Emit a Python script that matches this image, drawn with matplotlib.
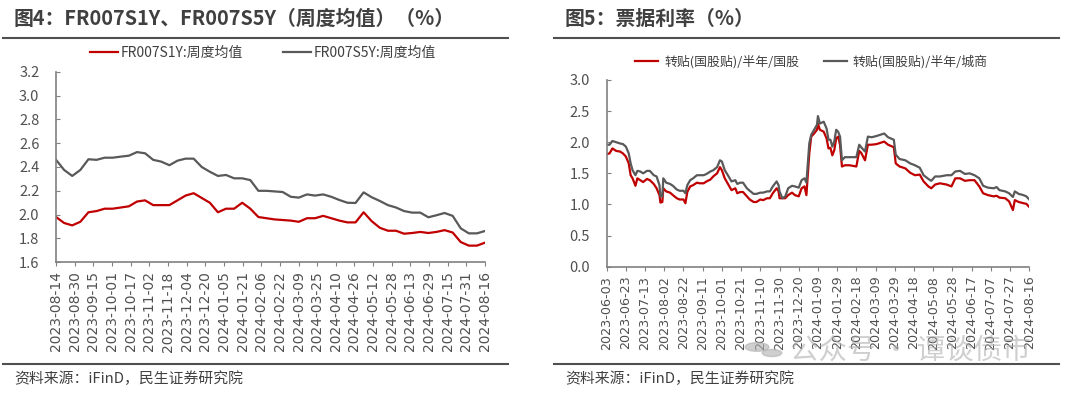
import pandas as pd
import matplotlib.pyplot as plt
import matplotlib.dates as mdates
import numpy as np
from matplotlib.lines import Line2D

plt.rcParams['font.family'] = ['Noto Sans CJK SC', 'DejaVu Sans']

RED = '#C00000'
GRAY = '#595959'
AXC = '#808080'
TXT = '#404040'

# ---- 图4: weekly FR007 swap rates ----
fr_start = '2023-08-14'
fr_end = '2024-08-16'
fr007s1y = [1.98, 1.93, 1.91, 1.94, 2.02, 2.03, 2.05, 2.05, 2.06, 2.07, 2.11, 2.12,
            2.08, 2.08, 2.08, 2.12, 2.16, 2.18, 2.14, 2.10, 2.02, 2.05, 2.05, 2.10,
            2.05, 1.98, 1.97, 1.96, 1.955, 1.95, 1.94, 1.97, 1.97, 1.99, 1.97, 1.95,
            1.935, 1.935, 2.02, 1.945, 1.89, 1.865, 1.865, 1.84, 1.846, 1.855, 1.846,
            1.855, 1.87, 1.85, 1.77, 1.74, 1.74, 1.765]
fr007s5y = [2.46, 2.375, 2.325, 2.375, 2.465, 2.46, 2.478, 2.478, 2.487, 2.495, 2.525, 2.515,
            2.46, 2.445, 2.415, 2.453, 2.47, 2.47, 2.40, 2.36, 2.325, 2.333, 2.305, 2.305,
            2.29, 2.20, 2.20, 2.195, 2.19, 2.15, 2.143, 2.17, 2.16, 2.17, 2.15, 2.123,
            2.10, 2.098, 2.187, 2.146, 2.115, 2.08, 2.06, 2.03, 2.017, 2.017, 1.978,
            1.995, 2.014, 1.99, 1.885, 1.843, 1.843, 1.863]
fr_dates = pd.date_range(fr_start, fr_end, periods=len(fr007s1y))
fr_ticks = pd.date_range(fr_start, fr_end, freq='16D')

# ---- 图5: bill rates (daily, sampled) ----
bill_dates = ['2023-06-03', '2023-06-06', '2023-06-09', '2023-06-13', '2023-06-17', '2023-06-20',
              '2023-06-23', '2023-06-26', '2023-06-28', '2023-06-30', '2023-07-03', '2023-07-05',
              '2023-07-08', '2023-07-11', '2023-07-15', '2023-07-18', '2023-07-22', '2023-07-25',
              '2023-07-28', '2023-07-29', '2023-07-31', '2023-08-01', '2023-08-04', '2023-08-08',
              '2023-08-11', '2023-08-15', '2023-08-18', '2023-08-22', '2023-08-24', '2023-08-26',
              '2023-08-29', '2023-09-01', '2023-09-05', '2023-09-08', '2023-09-12', '2023-09-15',
              '2023-09-19', '2023-09-22', '2023-09-26', '2023-09-29', '2023-10-01', '2023-10-04',
              '2023-10-08', '2023-10-11', '2023-10-15', '2023-10-17', '2023-10-20', '2023-10-23',
              '2023-10-27', '2023-10-30', '2023-11-03', '2023-11-06', '2023-11-10', '2023-11-13',
              '2023-11-17', '2023-11-20', '2023-11-23', '2023-11-27', '2023-11-29', '2023-11-30',
              '2023-12-03', '2023-12-06', '2023-12-09', '2023-12-13', '2023-12-16', '2023-12-20',
              '2023-12-23', '2023-12-26', '2023-12-28', '2023-12-31', '2024-01-02', '2024-01-05',
              '2024-01-08', '2024-01-09', '2024-01-11', '2024-01-15', '2024-01-18', '2024-01-20',
              '2024-01-22', '2024-01-24', '2024-01-26', '2024-01-28', '2024-01-30', '2024-02-01',
              '2024-02-03', '2024-02-06', '2024-02-11', '2024-02-18', '2024-02-21', '2024-02-23',
              '2024-02-27', '2024-03-01', '2024-03-05', '2024-03-10', '2024-03-14', '2024-03-18',
              '2024-03-22', '2024-03-28', '2024-03-30', '2024-04-03', '2024-04-09', '2024-04-14',
              '2024-04-19', '2024-04-24', '2024-04-28', '2024-05-03', '2024-05-06', '2024-05-10',
              '2024-05-15', '2024-05-22', '2024-05-27', '2024-05-31', '2024-06-05', '2024-06-10',
              '2024-06-15', '2024-06-20', '2024-06-25', '2024-06-29', '2024-07-04', '2024-07-10',
              '2024-07-13', '2024-07-16', '2024-07-22', '2024-07-26', '2024-07-30', '2024-08-01',
              '2024-08-05', '2024-08-10', '2024-08-13', '2024-08-16']
bill_guogu = [1.81, 1.82, 1.90, 1.86, 1.85, 1.82, 1.77, 1.66, 1.47, 1.42, 1.30, 1.42,
              1.39, 1.36, 1.41, 1.39, 1.33, 1.26, 1.15, 1.03, 1.04, 1.26, 1.21, 1.19,
              1.15, 1.10, 1.08, 1.08, 1.02, 1.20, 1.29, 1.31, 1.35, 1.34, 1.34, 1.37,
              1.40, 1.45, 1.50, 1.60, 1.55, 1.42, 1.31, 1.23, 1.26, 1.18, 1.20, 1.20,
              1.13, 1.08, 1.04, 1.04, 1.08, 1.07, 1.10, 1.10, 1.18, 1.26, 1.21, 1.10,
              1.10, 1.10, 1.15, 1.19, 1.15, 1.13, 1.26, 1.29, 1.15, 1.82, 2.09, 2.14,
              2.20, 2.30, 2.20, 2.17, 2.06, 1.90, 1.91, 1.79, 1.87, 2.06, 2.09, 1.96,
              1.61, 1.63, 1.63, 1.61, 1.86, 1.83, 1.71, 1.96, 1.96, 1.97, 1.99, 2.01,
              1.96, 1.92, 1.66, 1.61, 1.58, 1.51, 1.47, 1.48, 1.37, 1.29, 1.26, 1.32,
              1.34, 1.32, 1.29, 1.42, 1.42, 1.38, 1.39, 1.39, 1.29, 1.18, 1.15, 1.13,
              1.14, 1.11, 1.10, 1.05, 0.91, 1.07, 1.04, 1.02, 1.01, 0.96]
bill_chengshang = [1.96, 1.96, 2.02, 2.00, 1.98, 1.97, 1.93, 1.82, 1.66, 1.55, 1.47, 1.54,
                   1.53, 1.50, 1.54, 1.54, 1.47, 1.45, 1.31, 1.13, 1.13, 1.42, 1.35, 1.33,
                   1.30, 1.24, 1.22, 1.22, 1.18, 1.31, 1.39, 1.42, 1.47, 1.47, 1.47, 1.49,
                   1.53, 1.55, 1.60, 1.71, 1.69, 1.55, 1.45, 1.37, 1.39, 1.33, 1.35, 1.35,
                   1.26, 1.22, 1.17, 1.17, 1.19, 1.19, 1.21, 1.21, 1.29, 1.37, 1.31, 1.21,
                   1.10, 1.13, 1.26, 1.30, 1.29, 1.27, 1.39, 1.42, 1.35, 1.98, 2.12, 2.20,
                   2.28, 2.42, 2.30, 2.33, 2.22, 2.04, 2.04, 1.93, 2.01, 2.20, 2.17, 2.09,
                   1.71, 1.76, 1.76, 1.76, 1.96, 1.92, 1.85, 2.09, 2.08, 2.10, 2.12, 2.14,
                   2.08, 2.04, 1.80, 1.73, 1.71, 1.66, 1.63, 1.59, 1.47, 1.41, 1.38, 1.45,
                   1.45, 1.47, 1.47, 1.53, 1.54, 1.49, 1.50, 1.47, 1.42, 1.30, 1.27, 1.26,
                   1.28, 1.23, 1.21, 1.18, 1.12, 1.21, 1.17, 1.15, 1.13, 1.08]
bill_dates = pd.to_datetime(bill_dates)
bill_ticks = pd.date_range('2023-06-03', '2024-08-16', freq='20D')


def style_axes(ax, xsize):
    for s in ['top', 'right']:
        ax.spines[s].set_visible(False)
    for s in ['left', 'bottom']:
        ax.spines[s].set_color(AXC)
        ax.spines[s].set_linewidth(1.2)
    ax.tick_params(axis='y', direction='in', length=3, color=AXC, labelsize=10.5,
                   labelcolor='#505050', pad=12)
    ax.tick_params(axis='x', direction='out', length=3, color=AXC, labelsize=xsize,
                   labelcolor='#505050', rotation=90)
    for lab in ax.get_xticklabels():
        lab.set_family('DejaVu Sans')


fig = plt.figure(figsize=(10.8, 3.96), dpi=100)

# left chart
ax1 = fig.add_axes([0.0519, 0.3376, 0.3972, 0.4814])
ax1.plot(fr_dates, fr007s1y, color=RED, lw=1.6, label='FR007S1Y:周度均值')
ax1.plot(fr_dates, fr007s5y, color=GRAY, lw=1.6, label='FR007S5Y:周度均值')
ax1.set_ylim(1.6, 3.2)
ax1.set_yticks(np.arange(1.6, 3.21, 0.2))
ax1.yaxis.set_major_formatter(plt.FormatStrFormatter('%.1f'))
ax1.set_xlim(fr_ticks[0], fr_ticks[-1])
ax1.set_xticks(fr_ticks)
ax1.xaxis.set_major_formatter(mdates.DateFormatter('%Y-%m-%d'))
style_axes(ax1, 10)

# right chart
ax2 = fig.add_axes([0.5617, 0.3265, 0.3913, 0.4715])
ax2.plot(bill_dates, bill_guogu, color=RED, lw=1.6, label='转贴(国股贴)/半年/国股')
ax2.plot(bill_dates, bill_chengshang, color=GRAY, lw=1.6, label='转贴(国股贴)/半年/城商')
ax2.set_ylim(0, 3.0)
ax2.set_yticks(np.arange(0, 3.01, 0.5))
ax2.yaxis.set_major_formatter(plt.FormatStrFormatter('%.1f'))
ax2.set_xlim(bill_ticks[0], bill_ticks[-1])
ax2.set_xticks(bill_ticks)
ax2.xaxis.set_major_formatter(mdates.DateFormatter('%Y-%m-%d'))
style_axes(ax2, 9.2)

# legends
fig.legend(handles=ax1.get_lines(), loc='center left', bbox_to_anchor=(0.0718, 1 - 53 / 396),
           ncol=2, frameon=False, fontsize=10, handlelength=2.0, handletextpad=0.2,
           columnspacing=2.9, labelcolor=TXT)
fig.legend(handles=ax2.get_lines(), loc='center left', bbox_to_anchor=(0.5772, 1 - 62 / 396),
           ncol=2, frameon=False, fontsize=9.3, handlelength=1.8, handletextpad=0.45,
           columnspacing=1.9, labelcolor=TXT)

# titles, rules and source lines
fig.text(14 / 1080, 1 - 18 / 396, '图4：FR007S1Y、FR007S5Y（周度均值）（%）', fontsize=14.3,
         fontweight='bold', color='#404040', va='center', ha='left')
fig.text(565 / 1080, 1 - 18 / 396, '图5：票据利率（%）', fontsize=14.3,
         fontweight='bold', color='#404040', va='center', ha='left')
for x0, x1 in [(3, 508), (554, 1059)]:
    for yy in (38, 364):
        fig.add_artist(Line2D([x0 / 1080, x1 / 1080], [1 - yy / 396, 1 - yy / 396],
                              color='#505050', lw=1.5))
fig.text(14 / 1080, 1 - 379 / 396, '资料来源：iFinD，民生证券研究院', fontsize=10.7,
         color=TXT, va='center', ha='left')
fig.text(565 / 1080, 1 - 379 / 396, '资料来源：iFinD，民生证券研究院', fontsize=10.7,
         color=TXT, va='center', ha='left')

# watermark
fig.text(790 / 1080, 1 - 351 / 396, '公众号 · 谭谈债市', fontsize=20.5, color='#b0b0b0',
         alpha=0.6, va='center', ha='left')
fig.add_artist(plt.Circle((757 / 1080, 1 - 347 / 396), 0.011, color='#b0b0b0', alpha=0.6,
                          transform=fig.transFigure))
fig.add_artist(plt.Circle((772 / 1080, 1 - 353 / 396), 0.009, color='#b0b0b0', alpha=0.6,
                          transform=fig.transFigure))

fig.savefig('out.png', dpi=100)
